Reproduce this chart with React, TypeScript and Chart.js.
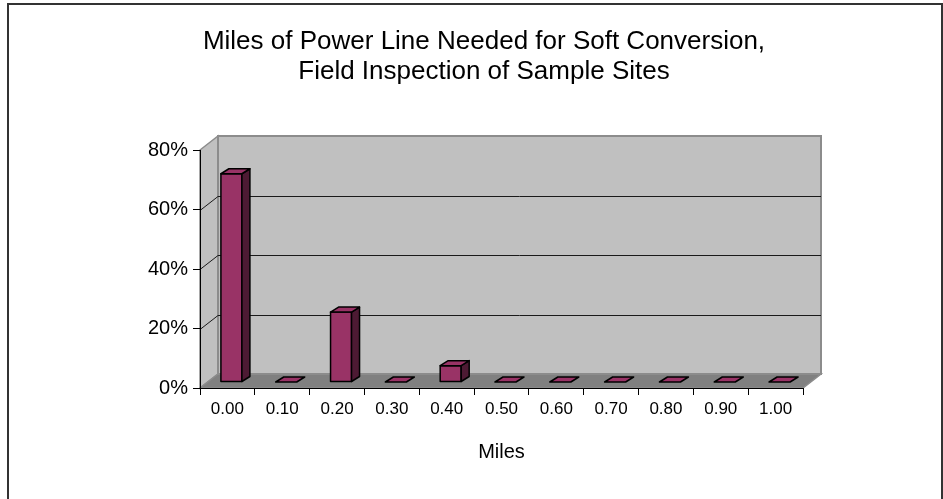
import React, { useEffect, useRef } from "react";
import { Chart, registerables } from "chart.js";

Chart.register(...registerables);

const titleLines = [
  "Miles of Power Line Needed for Soft Conversion,",
  "Field Inspection of Sample Sites",
];
const categories = ["0.00", "0.10", "0.20", "0.30", "0.40", "0.50", "0.60", "0.70", "0.80", "0.90", "1.00"];
const percentages = [70.0, 0, 23.5, 0, 5.5, 0, 0, 0, 0, 0, 0];
const yTickValues = [0, 20, 40, 60, 80];
const xAxisTitle = "Miles";

const FONT = "'Liberation Sans', Arial, Helvetica, sans-serif";

const depthPlugin = {
  id: "depth3d",
  beforeDraw(chart: any) {
    const { ctx, chartArea: a, scales } = chart;
    const y = scales.y;
    const dx = 18;
    const dy = -14;
    ctx.save();
    ctx.fillStyle = "#ffffff";
    ctx.fillRect(0, 0, chart.width, chart.height);
    // outer frame
    ctx.strokeStyle = "#333333";
    ctx.lineWidth = 2;
    ctx.strokeRect(8, 4, 934, 620);

    // back wall
    ctx.fillStyle = "#c0c0c0";
    ctx.fillRect(a.left + dx, a.top + dy, a.right - a.left, a.bottom - a.top);
    // left wall
    ctx.beginPath();
    ctx.moveTo(a.left, a.top);
    ctx.lineTo(a.left + dx, a.top + dy);
    ctx.lineTo(a.left + dx, a.bottom + dy);
    ctx.lineTo(a.left, a.bottom);
    ctx.closePath();
    ctx.fillStyle = "#c0c0c0";
    ctx.fill();
    ctx.strokeStyle = "#8c8c8c";
    ctx.lineWidth = 1.5;
    ctx.stroke();
    // floor
    ctx.beginPath();
    ctx.moveTo(a.left, a.bottom);
    ctx.lineTo(a.right, a.bottom);
    ctx.lineTo(a.right + dx, a.bottom + dy);
    ctx.lineTo(a.left + dx, a.bottom + dy);
    ctx.closePath();
    ctx.fillStyle = "#808080";
    ctx.fill();
    ctx.strokeStyle = "#8c8c8c";
    ctx.lineWidth = 1.5;
    ctx.stroke();
    // back wall border
    ctx.strokeStyle = "#8c8c8c";
    ctx.lineWidth = 2;
    ctx.strokeRect(a.left + dx, a.top + dy, a.right - a.left, a.bottom - a.top);

    // gridlines: diagonal on left wall, horizontal on back wall
    ctx.strokeStyle = "#1a1a1a";
    ctx.lineWidth = 1;
    yTickValues.forEach((v) => {
      if (v === yTickValues[0] || v === yTickValues[yTickValues.length - 1]) return;
      const yy = Math.round(y.getPixelForValue(v)) + 0.5;
      ctx.beginPath();
      ctx.moveTo(a.left, yy);
      ctx.lineTo(a.left + dx, yy + dy);
      ctx.lineTo(a.right + dx, yy + dy);
      ctx.stroke();
    });
    ctx.restore();
  },
  afterDatasetsDraw(chart: any) {
    const { ctx } = chart;
    const meta = chart.getDatasetMeta(0);
    const shiftX = 4;
    const shiftY = -6;
    const bdx = 8;
    const bdy = -5;
    ctx.save();
    ctx.lineJoin = "round";
    ctx.strokeStyle = "#000000";
    ctx.lineWidth = 1.5;
    meta.data.forEach((el: any) => {
      const p = el.getProps(["x", "y", "base", "width"], true);
      const L = p.x - p.width / 2 + shiftX;
      const R = L + p.width;
      const T = p.y + shiftY;
      const B = p.base + shiftY;
      if (B - T > 0.5) {
        ctx.beginPath();
        ctx.rect(L, T, R - L, B - T);
        ctx.fillStyle = "#993366";
        ctx.fill();
        ctx.stroke();
        ctx.beginPath();
        ctx.moveTo(R, T);
        ctx.lineTo(R + bdx, T + bdy);
        ctx.lineTo(R + bdx, B + bdy);
        ctx.lineTo(R, B);
        ctx.closePath();
        ctx.fillStyle = "#4d1a33";
        ctx.fill();
        ctx.stroke();
      }
      ctx.beginPath();
      ctx.moveTo(L, T);
      ctx.lineTo(R, T);
      ctx.lineTo(R + bdx, T + bdy);
      ctx.lineTo(L + bdx, T + bdy);
      ctx.closePath();
      ctx.fillStyle = "#993366";
      ctx.fill();
      ctx.stroke();
    });
    ctx.restore();
  },
};

export default function App() {
  const canvasRef = useRef<HTMLCanvasElement | null>(null);

  useEffect(() => {
    const canvas = canvasRef.current;
    if (!canvas) return;
    Chart.defaults.font.family = FONT;
    const chart = new Chart(canvas, {
      type: "bar",
      data: {
        labels: categories,
        datasets: [
          {
            data: percentages,
            backgroundColor: "rgba(0,0,0,0)",
            borderWidth: 0,
            barPercentage: 0.383,
            categoryPercentage: 1,
            yAxisID: "y",
          },
        ],
      },
      options: {
        responsive: false,
        animation: false,
        devicePixelRatio: 1,
        layout: { padding: { left: 100, right: 75, top: 0, bottom: 0 } },
        plugins: {
          legend: { display: false },
          tooltip: { enabled: false },
          title: {
            display: true,
            text: titleLines,
            color: "#000000",
            font: { family: FONT, size: 26, weight: "normal", lineHeight: 30 / 26 },
            padding: { top: 27, bottom: 63 },
          },
        },
        scales: {
          x: {
            offset: true,
            grid: {
              offset: true,
              drawOnChartArea: false,
              drawTicks: true,
              tickLength: 7,
              color: "#000000",
            },
            border: { display: true, color: "#000000", width: 1 },
            ticks: {
              color: "#000000",
              font: { family: FONT, size: 17 },
              padding: 4,
              maxRotation: 0,
              autoSkip: false,
            },
            title: {
              display: true,
              text: xAxisTitle,
              color: "#000000",
              font: { family: FONT, size: 20 },
              padding: { top: 0, bottom: 35 },
            },
            afterFit: (s: any) => {
              s.height = 111;
            },
          },
          y: {
            position: "left",
            min: yTickValues[0],
            max: yTickValues[yTickValues.length - 1],
            grid: {
              drawOnChartArea: false,
              drawTicks: true,
              tickLength: 7,
              color: "#000000",
            },
            border: { display: true, color: "#000000", width: 1 },
            ticks: {
              stepSize: 20,
              color: "#000000",
              font: { family: FONT, size: 20 },
              padding: 5,
              callback: (v: any) => `${v}%`,
            },
            afterFit: (s: any) => {
              s.width = 100;
            },
          },
          ySpacer: {
            position: "right",
            min: 0,
            max: 80,
            grid: { display: false, drawOnChartArea: false, drawTicks: false },
            border: { display: false },
            ticks: { display: false },
            afterFit: (s: any) => {
              s.width = 65;
            },
          },
        },
      },
      plugins: [depthPlugin],
    });
    return () => chart.destroy();
  }, []);

  return (
    <div style={{ position: "absolute", left: 0, top: 0, width: 943, height: 499 }}>
      <canvas ref={canvasRef} width={943} height={499} style={{ display: "block" }} />
    </div>
  );
}
